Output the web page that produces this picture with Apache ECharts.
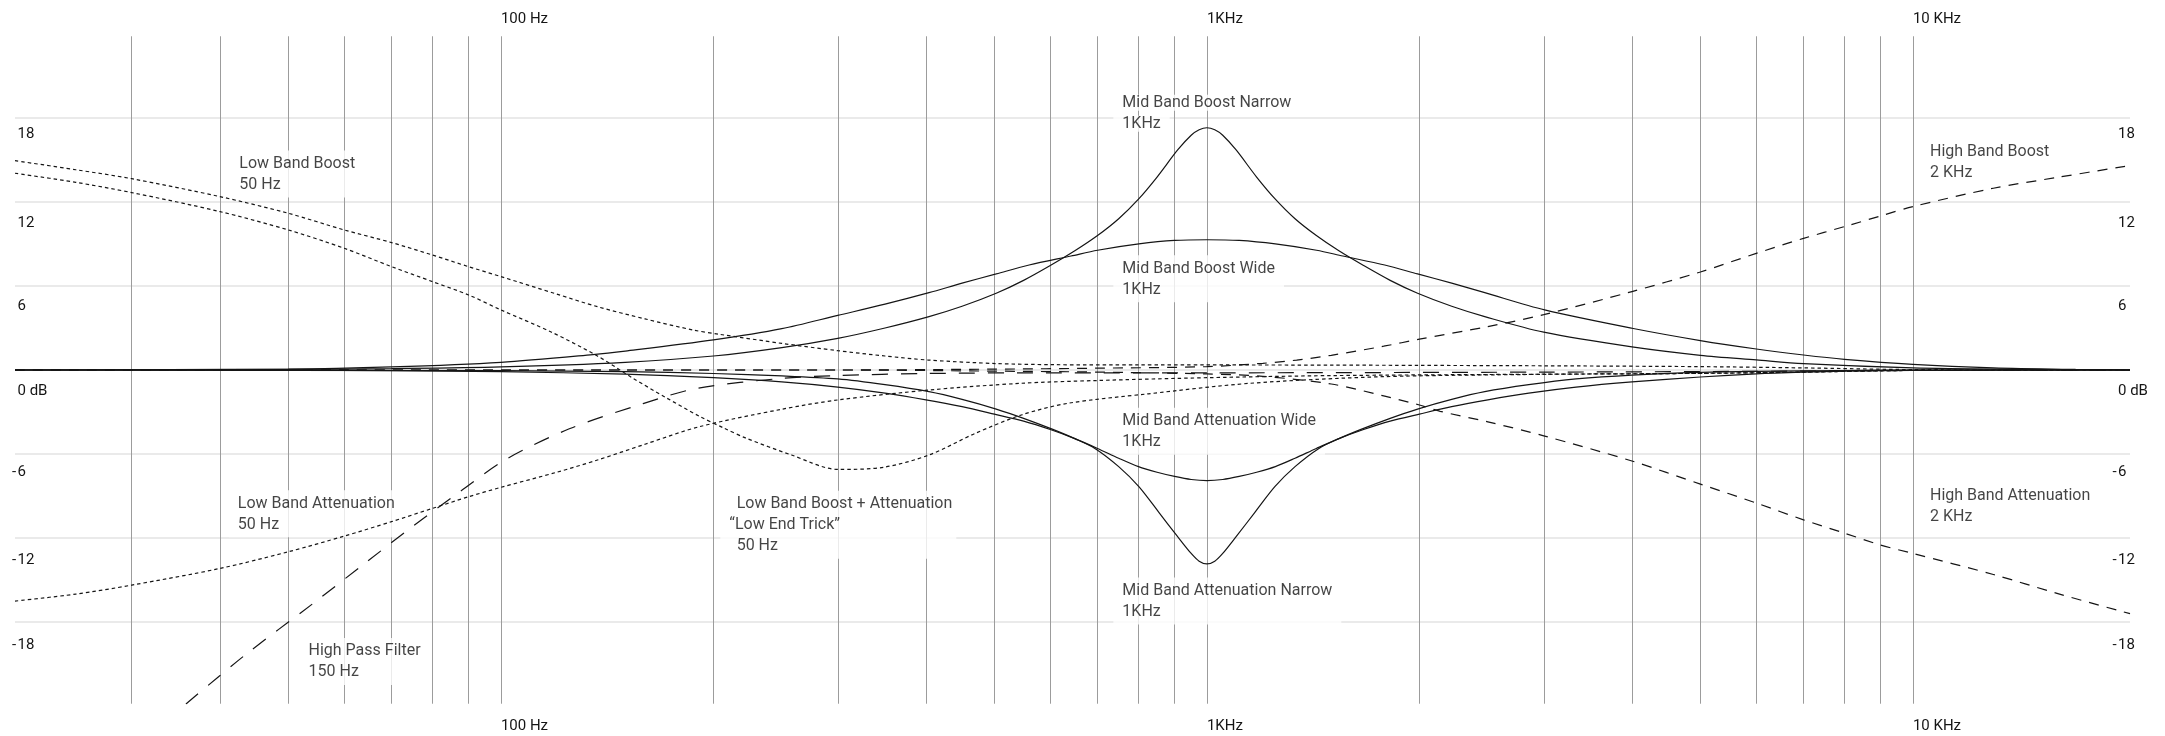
<!DOCTYPE html>
<html>
<head>
<meta charset="utf-8">
<title>EQ curves</title>
<script src="https://cdn.jsdelivr.net/npm/echarts@6/dist/echarts.min.js"></script>
<style>
  html, body { margin: 0; padding: 0; background: #ffffff; }
  #chart { width: 2165px; height: 736px; }
</style>
</head>
<body>
<div id="chart"></div>
<script>
// ---- axis content ----
const freqTicks = [100, 1000, 10000];
const freqTickLabels = ['100 Hz', '1KHz', '10 KHz'];
const levelTicks = [18, 12, 6, 0, -6, -12, -18];
const levelTickLabels = ['18', '12', '6', '0 dB', '-6', '-12', '-18'];
const freqGridLines = [30, 40, 50, 60, 70, 80, 90,
  100, 200, 300, 400, 500, 600, 700, 800, 900,
  1000, 2000, 3000, 4000, 5000, 6000, 7000, 8000, 9000, 10000];
const levelGridLines = [18, 12, 6, 0, -6, -12, -18];

// ---- response curves: [frequency Hz, gain dB] ----
const lowBandBoost = [[20.5,14.95],[25,14.3],[30,13.66],[40,12.38],[50,11.19],[60,10.0],[70,9.1],[80,8.21],[90,7.38],[100,6.67],[120,5.42],[137,4.52],[160,3.65],[187,2.86],[204,2.55],[250,1.9],[300,1.38],[350,1.0],[403,0.71],[503,0.46],[605,0.38],[800,0.36],[1000,0.36],[1500,0.35],[2000,0.33],[3000,0.3],[5000,0.24],[7000,0.15],[10000,0.03],[20300,0]];
const lowBandAttenuation = [[20.5,-16.5],[25,-16.0],[30,-15.36],[40,-14.17],[50,-12.98],[60,-11.86],[70,-10.83],[80,-9.88],[90,-9.05],[100,-8.38],[120,-7.3],[137,-6.43],[160,-5.3],[191,-4.05],[250,-2.8],[300,-2.14],[404,-1.43],[545,-0.95],[700,-0.75],[1000,-0.55],[1500,-0.4],[3000,-0.3],[5000,-0.24],[7000,-0.15],[10000,-0.03],[20300,0]];
const lowEndTrick = [[20.5,14.05],[25,13.4],[30,12.67],[40,11.31],[50,10.0],[60,8.69],[70,7.38],[80,6.31],[90,5.36],[100,4.29],[118,2.7],[137,1.0],[154,-0.6],[171,-1.95],[191,-3.3],[207,-4.15],[222,-4.85],[258,-6.07],[300,-7.1],[348,-6.95],[404,-6.07],[470,-4.52],[546,-3.21],[635,-2.38],[826,-1.7],[1150,-0.95],[1770,-0.48],[3000,-0.31],[5000,-0.24],[7000,-0.15],[10000,-0.03],[20300,0]];
const highPassFilter = [[35.8,-23.85],[43.3,-20.4],[54.1,-16.7],[63.8,-13.9],[75.3,-11.1],[87.4,-8.7],[101.5,-6.4],[125,-4.2],[159,-2.4],[190,-1.3],[250,-0.6],[300,-0.4],[400,-0.25],[600,-0.2],[1000,-0.2],[3000,-0.15],[7000,-0.08],[10000,-0.03],[20300,0]];
const midBoostNarrow = [[20.5,0],[50,0.04],[70,0.1],[100,0.22],[150,0.55],[200,1.0],[250,1.6],[300,2.26],[350,3.0],[404,3.81],[450,4.55],[503,5.48],[550,6.4],[600,7.46],[650,8.51],[700,9.6],[750,10.8],[800,12.2],[850,13.78],[909,15.71],[950,16.76],[975,17.15],[1000,17.3],[1026,17.15],[1053,16.76],[1100,15.71],[1176,13.78],[1250,12.2],[1333,10.8],[1429,9.6],[1538,8.51],[1667,7.46],[1818,6.4],[1988,5.48],[2222,4.55],[2475,3.81],[3000,2.7],[4000,1.65],[5000,1.05],[6000,0.72],[7000,0.45],[10000,0.15],[14000,0.05],[20300,0]];
const midBoostWide = [[20.5,0],[50,0.06],[70,0.22],[100,0.55],[135,1.1],[150,1.35],[200,2.15],[250,2.95],[300,3.9],[350,4.7],[404,5.52],[450,6.2],[503,6.86],[560,7.5],[642,8.14],[700,8.55],[801,9.0],[900,9.25],[1000,9.3],[1111,9.25],[1250,9.0],[1430,8.55],[1558,8.14],[1786,7.5],[1988,6.86],[2222,6.2],[2475,5.52],[3009,4.29],[4000,2.98],[5000,2.1],[6000,1.5],[7000,1.07],[8000,0.76],[10000,0.4],[13000,0.15],[17000,0.04],[20300,0]];
const midAttenuationWide = [[20.5,0],[50,-0.02],[70,-0.05],[100,-0.12],[150,-0.3],[200,-0.55],[250,-0.85],[300,-1.22],[350,-1.65],[400,-2.13],[450,-2.62],[500,-3.15],[550,-3.65],[600,-4.25],[650,-4.9],[700,-5.6],[750,-6.3],[800,-6.9],[850,-7.3],[900,-7.6],[950,-7.82],[1000,-7.9],[1053,-7.82],[1111,-7.6],[1176,-7.3],[1250,-6.9],[1333,-6.3],[1429,-5.6],[1538,-4.9],[1667,-4.25],[1818,-3.65],[2000,-3.15],[2222,-2.62],[2500,-2.13],[2857,-1.65],[3333,-1.22],[4000,-0.85],[5000,-0.5],[6000,-0.27],[7000,-0.15],[8000,-0.08],[10000,-0.03],[20300,0]];
const midAttenuationNarrow = [[20.5,0],[100,-0.05],[150,-0.12],[200,-0.25],[250,-0.42],[300,-0.64],[350,-1.05],[404,-1.55],[450,-2.1],[503,-2.79],[550,-3.45],[605,-4.24],[650,-4.9],[694,-5.6],[750,-6.9],[801,-8.33],[856,-10.2],[909,-11.9],[950,-13.1],[975,-13.65],[1000,-13.85],[1026,-13.65],[1053,-13.1],[1100,-11.9],[1168,-10.2],[1248,-8.33],[1333,-6.9],[1441,-5.6],[1538,-4.9],[1653,-4.24],[1818,-3.45],[1988,-2.79],[2222,-2.1],[2475,-1.55],[2857,-1.05],[3333,-0.64],[4000,-0.36],[5000,-0.17],[6000,-0.1],[8000,-0.04],[10000,0],[20300,0]];
const highBandBoost = [[20.5,0],[300,0],[500,0.06],[700,0.13],[1000,0.24],[1200,0.48],[1340,0.71],[1500,1.05],[1780,1.7],[2000,2.2],[2500,3.1],[3000,3.95],[4000,5.6],[5000,7.0],[6000,8.33],[7000,9.4],[8000,10.24],[9000,11.0],[10000,11.67],[13000,12.98],[16000,13.75],[20300,14.6]];
const highBandAttenuation = [[20.5,0],[300,0],[500,-0.08],[700,-0.15],[1000,-0.28],[1200,-0.45],[1500,-1.0],[1780,-1.85],[2000,-2.5],[2140,-2.95],[2500,-3.7],[3000,-4.7],[4000,-6.5],[5000,-8.15],[6000,-9.5],[7000,-10.7],[8000,-11.65],[9000,-12.5],[10000,-13.1],[13000,-14.6],[16000,-15.95],[20300,-17.4]];

// ---- curve captions: anchor = [frequency, gain] where the first line starts ----
const noteTexts = [
  ['Low Band Boost', '50 Hz'],
  ['Low Band Attenuation', '50 Hz'],
  ['High Pass Filter', '150 Hz'],
  ['Low Band Boost + Attenuation', '\u201cLow End Trick\u201d', '50 Hz'],
  ['Mid Band Boost Narrow', '1KHz'],
  ['Mid Band Boost Wide', '1KHz'],
  ['Mid Band Attenuation Wide', '1KHz'],
  ['Mid Band Attenuation Narrow', '1KHz'],
  ['High Band Boost', '2 KHz'],
  ['High Band Attenuation', '2 KHz']
];
const noteAnchors = [
  [42.6, 14.86], [42.4, -9.41], [53.4, -19.95], [210.6, -9.45],
  [759, 19.23], [759, 7.38], [759, -3.52], [759, -15.64],
  [10573, 15.71], [10573, -8.88]
];

// ---- drawing ----
const FREQ_MIN = 20.5, FREQ_MAX = 20300;
const LEVEL_MIN = -23.85, LEVEL_MAX = 23.85;
const INK = '#151515';
const FONT = 'Roboto, "Liberation Sans", sans-serif';
// how far (px) each level label sits below its grid line
const LEVEL_LABEL_DROP = [16.6, 21, 20, 21, 18.3, 22, 23.4];

function levelLabel(v) {
  const i = levelTicks.indexOf(Math.round(v));
  const s = levelTickLabels[i];
  if (s.charAt(0) === '-') return '{m' + i + '|-}{d' + i + '|' + s.slice(1) + '}';
  return '{m' + i + '| }{d' + i + '|' + s + '}';
}
function levelRich() {
  const rich = {};
  LEVEL_LABEL_DROP.forEach((drop, i) => {
    const pad = [drop * 2, 0, 0, 0];
    rich['m' + i] = { width: 7, align: 'right', padding: pad, fontSize: 15, fontFamily: FONT, color: INK };
    rich['d' + i] = { padding: pad, fontSize: 15, fontFamily: FONT, color: INK };
  });
  return rich;
}
function freqLabel(v) {
  let best = 0;
  freqTicks.forEach((t, i) => {
    if (Math.abs(Math.log10(t / v)) < Math.abs(Math.log10(freqTicks[best] / v))) best = i;
  });
  return freqTickLabels[best];
}

const levelAxisLabel = (margin) => ({
  customValues: levelTicks,
  formatter: levelLabel,
  align: 'left',
  margin: margin,
  verticalAlign: 'middle',
  rich: levelRich()
});
const freqAxisLabel = (margin) => ({
  customValues: freqTicks,
  formatter: freqLabel,
  align: 'left',
  verticalAlign: 'middle',
  margin: margin,
  fontSize: 15,
  fontFamily: FONT,
  color: INK
});

function curve(name, data, dash) {
  return {
    name: name,
    type: 'line',
    data: data,
    smooth: 0.3,
    symbol: 'none',
    z: 4,
    silent: true,
    lineStyle: { color: INK, width: 1.2, type: dash, cap: 'butt' }
  };
}

const DOTTED = [3.5, 3];
const LONG_DASH = [16, 13];
const MID_DASH = [10, 8];

const noteSeries = {
  type: 'scatter',
  symbolSize: 0,
  z: 3,
  silent: true,
  data: noteAnchors.map((a, i) => {
    const rows = noteTexts[i];
    let label;
    if (i === 4) {
      // each line of this caption keeps its own white box
      label = {
        formatter: rows.map(r => '{b|' + r + '}').join('\n'),
        position: [-9, -8.5],
        padding: 0,
        backgroundColor: 'transparent'
      };
    } else if (i === 3) {
      // the opening quote on the middle line hangs into the margin
      label = {
        formatter: rows.map((r, k) => (k === 1 ? '' : '{i| }') + '{t|' + r + '}').join('\n'),
        padding: [3, 4, 2, 9]
      };
    } else {
      label = { formatter: rows.map(r => '{t|' + r + '}').join('\n') };
    }
    return { value: a, label: label };
  }),
  label: {
    show: true,
    position: [-9, -11.5],
    align: 'left',
    verticalAlign: 'top',
    backgroundColor: '#ffffff',
    padding: [3, 9, 2, 9],
    lineHeight: 21,
    rich: {
      t: { fontSize: 16, lineHeight: 21, fontFamily: FONT, color: INK },
      i: { width: 7.4, fontSize: 16, lineHeight: 21 },
      b: { backgroundColor: '#ffffff', padding: [0, 9, 0, 9], lineHeight: 21, fontSize: 16, fontFamily: FONT, color: INK }
    }
  }
};

const gridSeriesH = {
  type: 'line', data: [], silent: true, z: 1,
  markLine: {
    z: 1, silent: true, symbol: 'none', animation: false,
    label: { show: false },
    lineStyle: { color: '#e3e3e3', width: 1.5, type: 'solid' },
    data: levelGridLines.map(v => ({ yAxis: v }))
  }
};
const gridSeriesV = {
  type: 'line', data: [], silent: true, z: 1,
  markLine: {
    z: 1, silent: true, symbol: 'none', animation: false,
    label: { show: false },
    lineStyle: { color: '#9c9c9c', width: 1, type: 'solid' },
    data: freqGridLines.map(f => [{ coord: [f, LEVEL_MIN + 0.02] }, { coord: [f, LEVEL_MAX - 0.02] }])
  }
};

const chart = echarts.init(document.getElementById('chart'), null, { renderer: 'canvas' });
chart.setOption({
  animation: false,
  backgroundColor: '#ffffff',
  grid: { left: 15, right: 35, top: 36, bottom: 32, containLabel: false },
  xAxis: [
    { type: 'log', logBase: 10, min: FREQ_MIN, max: FREQ_MAX, position: 'bottom',
      axisLine: { show: false }, axisTick: { show: false }, splitLine: { show: false }, minorSplitLine: { show: false },
      axisLabel: freqAxisLabel(22) },
    { type: 'log', logBase: 10, min: FREQ_MIN, max: FREQ_MAX, position: 'top',
      axisLine: { show: false }, axisTick: { show: false }, splitLine: { show: false },
      axisLabel: freqAxisLabel(16.5) }
  ],
  yAxis: [
    { type: 'value', min: LEVEL_MIN, max: LEVEL_MAX, position: 'left',
      axisLine: { show: false }, axisTick: { show: false }, splitLine: { show: false },
      axisLabel: levelAxisLabel(4.5) },
    { type: 'value', min: LEVEL_MIN, max: LEVEL_MAX, position: 'right',
      axisLine: { show: false }, axisTick: { show: false }, splitLine: { show: false },
      axisLabel: levelAxisLabel(-19) }
  ],
  series: [
    gridSeriesH,
    gridSeriesV,
    noteSeries,
    curve('Low Band Boost', lowBandBoost, DOTTED),
    curve('Low Band Attenuation', lowBandAttenuation, DOTTED),
    curve('Low End Trick', lowEndTrick, DOTTED),
    curve('High Pass Filter', highPassFilter, LONG_DASH),
    curve('High Band Boost', highBandBoost, MID_DASH),
    curve('High Band Attenuation', highBandAttenuation, MID_DASH),
    curve('Mid Band Boost Narrow', midBoostNarrow, 'solid'),
    curve('Mid Band Boost Wide', midBoostWide, 'solid'),
    curve('Mid Band Attenuation Wide', midAttenuationWide, 'solid'),
    curve('Mid Band Attenuation Narrow', midAttenuationNarrow, 'solid')
  ]
});
</script>
</body>
</html>
